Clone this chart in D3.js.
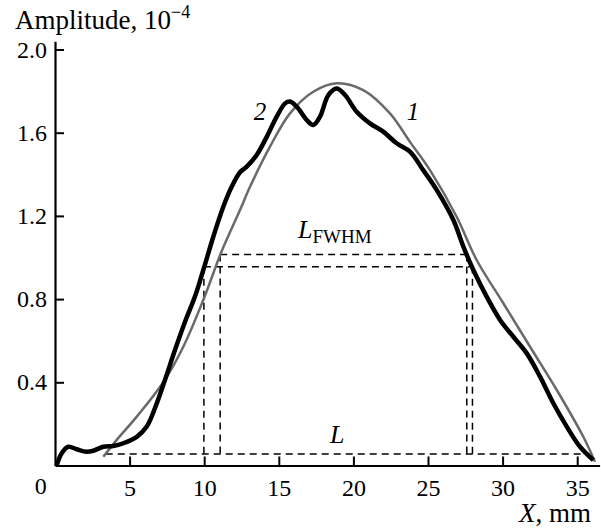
<!DOCTYPE html>
<html>
<head>
<meta charset="utf-8">
<script src="https://cdn.jsdelivr.net/npm/d3@7"></script>
<style>
  body { margin: 0; background: #fff; }
  svg text { font-family: "Liberation Serif", "Tinos", "DejaVu Serif", "Noto Serif", serif; fill: #000; }
</style>
</head>
<body>
<div id="chart"></div>
<script>
// curve 2: measured amplitude (black)
var measX = [0.11, 0.45, 0.89, 1.45, 2.12, 2.57, 3.24, 3.91, 4.58, 5.48, 6.15, 6.82, 7.37, 8.04, 8.71, 9.38, 9.94, 10.61, 11.28, 11.84, 12.40, 12.85, 13.52, 14.19, 14.86, 15.42, 15.75, 16.20, 16.87, 17.31, 17.76, 18.32, 18.88, 19.44, 20.22, 21.11, 22.00, 22.90, 23.79, 24.68, 25.58, 26.70, 27.37, 28.04, 28.93, 29.83, 30.72, 31.62, 32.51, 33.40, 34.30, 35.19, 36.08];
var measY = [0.0, 0.059, 0.09, 0.078, 0.066, 0.071, 0.09, 0.094, 0.107, 0.138, 0.187, 0.299, 0.411, 0.555, 0.69, 0.812, 0.94, 1.10, 1.244, 1.34, 1.41, 1.437, 1.493, 1.58, 1.677, 1.741, 1.75, 1.725, 1.661, 1.637, 1.677, 1.781, 1.813, 1.781, 1.701, 1.645, 1.605, 1.549, 1.509, 1.42, 1.325, 1.18, 1.052, 0.94, 0.812, 0.70, 0.619, 0.539, 0.427, 0.299, 0.187, 0.09, 0.026];

// curve 1: fitted profile (grey)
var fitX = [3.24, 4.14, 5.48, 7.26, 8.60, 9.94, 11.17, 12.40, 13.07, 14.41, 15.75, 17.31, 18.88, 20.66, 22.45, 23.79, 25.13, 26.92, 28.26, 30.05, 31.84, 33.63, 35.41, 36.19];
var fitY = [0.042, 0.123, 0.235, 0.40, 0.571, 0.796, 1.03, 1.228, 1.34, 1.533, 1.693, 1.797, 1.838, 1.805, 1.693, 1.556, 1.42, 1.196, 0.988, 0.78, 0.571, 0.363, 0.138, 0.018];

// dashed guide lines: [x1, y1, x2, y2]
var guides = [
  [3.4, 0.055, 35.6, 0.055],     // L
  [11.07, 1.015, 27.6, 1.015],   // FWHM, curve 1
  [9.98, 0.955, 27.98, 0.955],   // FWHM, curve 2
  [9.98, 0.955, 9.98, 0.055],
  [11.07, 1.015, 11.07, 0.055],
  [27.6, 1.015, 27.6, 0.055],
  [27.98, 0.955, 27.98, 0.055]
];

var xTicks = [5, 10, 15, 20, 25, 30, 35];
var yTicks = [0.4, 0.8, 1.2, 1.6, 2.0];

var width = 601, height = 529;
var serif = "'Liberation Serif', 'Tinos', 'DejaVu Serif', 'Noto Serif', serif";

var svg = d3.select("#chart").append("svg")
  .attr("width", width)
  .attr("height", height)
  .style("font-family", serif);

var x = d3.scaleLinear().domain([0, 36.5]).range([55, 55 + 36.5 * 14.92]);
var y = d3.scaleLinear().domain([0, 2.04]).range([465.5, 465.5 - 2.04 * 208]);

// dashed guides
svg.append("g")
  .selectAll("line")
  .data(guides)
  .join("line")
    .attr("x1", d => x(d[0]))
    .attr("y1", d => y(d[1]))
    .attr("x2", d => x(d[2]))
    .attr("y2", d => y(d[3]))
    .attr("stroke", "#000")
    .attr("stroke-width", 1.5)
    .attr("stroke-dasharray", "7,5");

var line = d3.line()
  .x(d => x(d[0]))
  .y(d => y(d[1]))
  .curve(d3.curveCatmullRom.alpha(0.5));

svg.append("path")
  .datum(fitX.map((v, i) => [v, fitY[i]]))
  .attr("d", line)
  .attr("fill", "none")
  .attr("stroke", "#6a6a6a")
  .attr("stroke-width", 2.5);

svg.append("path")
  .datum(measX.map((v, i) => [v, measY[i]]))
  .attr("d", line)
  .attr("fill", "none")
  .attr("stroke", "#000")
  .attr("stroke-width", 4.5)
  .attr("stroke-linejoin", "round");

// axes
var xAxis = svg.append("g")
  .attr("transform", `translate(0,${y(0)})`)
  .call(d3.axisBottom(x).tickValues(xTicks).tickSizeInner(-9).tickSizeOuter(0).tickPadding(13).tickFormat(d3.format("d")));

var yAxis = svg.append("g")
  .attr("transform", `translate(${x(0)},0)`)
  .call(d3.axisLeft(y).tickValues(yTicks).tickSizeInner(-9).tickSizeOuter(0).tickPadding(8).tickFormat(d3.format(".1f")));

[xAxis, yAxis].forEach(g => {
  g.attr("font-family", null).attr("font-size", null);
  g.select(".domain").attr("stroke-width", 2.2);
  g.selectAll(".tick line").attr("stroke-width", 2);
  g.selectAll(".tick text").style("font-family", serif).style("font-size", "24px");
});

svg.append("text")
  .attr("x", 40.7).attr("y", 494)
  .attr("text-anchor", "middle")
  .style("font-size", "24px")
  .text("0");

// axis titles
var yt = svg.append("text").attr("x", 15).attr("y", 29).style("font-size", "27px");
yt.append("tspan").text("Amplitude, 10");
yt.append("tspan").style("font-size", "18px").attr("dy", -11).text("\u22124");

var xt = svg.append("text").attr("x", 591).attr("y", 522).attr("text-anchor", "end").style("font-size", "27px");
xt.append("tspan").style("font-style", "italic").text("X");
xt.append("tspan").text(", mm");

// curve labels
svg.append("text").attr("x", 260).attr("y", 120).attr("text-anchor", "middle")
  .style("font-size", "25px").style("font-style", "italic").text("2");
svg.append("text").attr("x", 413).attr("y", 120).attr("text-anchor", "middle")
  .style("font-size", "25px").style("font-style", "italic").text("1");

var lf = svg.append("text").attr("x", 298).attr("y", 238).style("font-size", "26px");
lf.append("tspan").style("font-style", "italic").text("L");
lf.append("tspan").style("font-size", "19px").attr("dy", 5).text("FWHM");

svg.append("text").attr("x", 330).attr("y", 443)
  .style("font-size", "26px").style("font-style", "italic").text("L");
</script>
</body>
</html>
